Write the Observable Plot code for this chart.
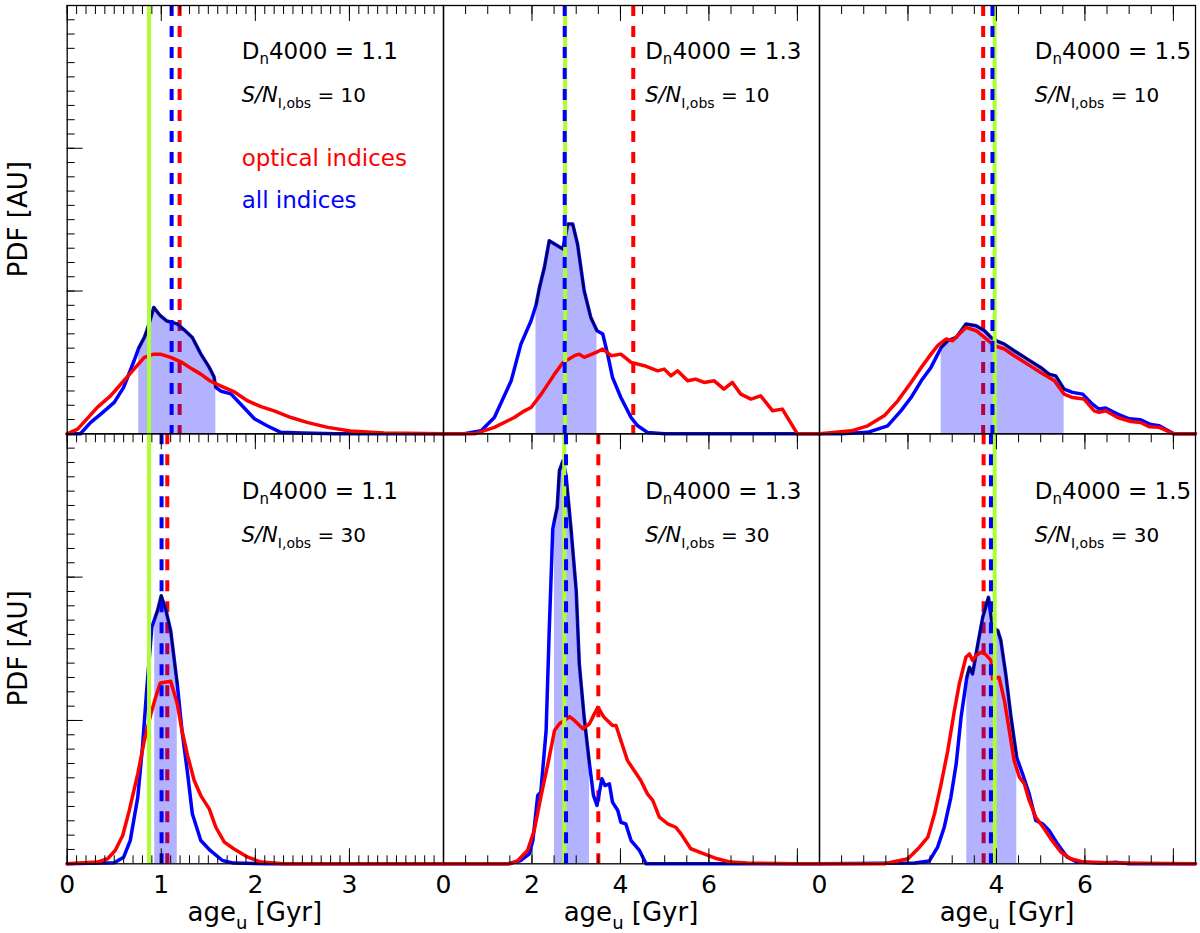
<!DOCTYPE html>
<html>
<head>
<meta charset="utf-8">
<script src="https://cdn.jsdelivr.net/npm/d3@7"></script>
<script src="https://cdn.jsdelivr.net/npm/@observablehq/plot@0.6"></script>
<style>
  body { margin: 0; background: #fff; font-family: "DejaVu Sans", sans-serif; }
  #chart { position: relative; width: 1200px; height: 933px; }
  #chart svg { position: absolute; left: 0; top: 0; overflow: visible; }
</style>
</head>
<body>
<div id="chart"></div>
<script>
// ---- data (age in Gyr, PDF in arbitrary units) ----
var dn4000 = ["1.1", "1.3", "1.5"];
var snrObs = ["10", "30"];
var ageMax = [4, 8.5, 8.5];
var xTickLabels = [[0, 1, 2, 3], [0, 2, 4, 6], [0, 2, 4, 6]];

// true age (green), median of "all indices" (blue), median of "optical indices" (red)
var trueAge = [[0.87, 2.75, 3.96], [0.87, 2.73, 3.96]];
var medianAll = [[1.11, 2.74, 3.91], [1.003, 2.77, 3.876]];
var medianOpt = [[1.195, 4.29, 3.70], [1.064, 3.5, 3.71]];
// shaded 68% range of the "all indices" PDF
var bandAll = [[[0.76, 1.58], [2.09, 3.47], [2.75, 5.53]],
               [[0.93, 1.17], [2.51, 3.30], [3.33, 4.46]]];

// S/N = 10, Dn4000 = 1.1
var allTL = [[0,0],[0.14,0],[0.25,0.08],[0.36,0.14],[0.5,0.22],[0.6,0.325],[0.71,0.51],[0.76,0.6],[0.82,0.675],[0.85,0.73],[0.89,0.815],[0.92,0.885],[0.99,0.827],[1.06,0.79],[1.17,0.77],[1.24,0.73],[1.33,0.675],[1.42,0.56],[1.51,0.465],[1.56,0.4],[1.58,0.325],[1.63,0.30],[1.74,0.28],[1.84,0.21],[1.99,0.105],[2.13,0.055],[2.27,0.01],[2.5,0.005],[2.85,0],[4,0]];
var optTL = [[0,0],[0.11,0.033],[0.21,0.105],[0.32,0.185],[0.46,0.266],[0.6,0.37],[0.71,0.453],[0.82,0.535],[0.92,0.558],[0.99,0.558],[1.1,0.535],[1.22,0.5],[1.33,0.453],[1.42,0.418],[1.52,0.37],[1.63,0.336],[1.77,0.296],[1.92,0.23],[2.06,0.19],[2.2,0.16],[2.38,0.114],[2.55,0.08],[2.77,0.045],[3.01,0.02],[3.37,0.005],[4,0]];
// S/N = 10, Dn4000 = 1.3
var allTM = [[0,0],[0.47,0],[0.85,0.021],[1.15,0.114],[1.53,0.371],[1.75,0.628],[1.98,0.792],[2.09,0.9],[2.17,1.025],[2.28,1.165],[2.39,1.352],[2.7,1.294],[2.81,1.47],[2.92,1.47],[3.03,1.329],[3.18,1.002],[3.33,0.815],[3.47,0.722],[3.6,0.699],[3.71,0.558],[3.82,0.395],[4.01,0.254],[4.24,0.114],[4.39,0.056],[4.61,0.01],[4.99,0],[8.5,0]];
var optTM = [[0,0],[0.7,0],[1.15,0.045],[1.6,0.114],[1.83,0.161],[1.98,0.184],[2.21,0.278],[2.51,0.418],[2.7,0.5],[2.96,0.547],[3.07,0.558],[3.18,0.535],[3.45,0.57],[3.6,0.594],[3.79,0.547],[4.01,0.558],[4.24,0.5],[4.54,0.477],[4.84,0.441],[4.99,0.453],[5.14,0.406],[5.29,0.441],[5.52,0.371],[5.7,0.383],[5.89,0.36],[6.12,0.371],[6.34,0.313],[6.53,0.36],[6.72,0.278],[6.95,0.243],[7.17,0.266],[7.44,0.161],[7.66,0.173],[8.0,0],[8.5,0]];
// S/N = 10, Dn4000 = 1.5
var allTR = [[0,0],[0.49,0],[1.09,0.01],[1.54,0.056],[1.84,0.161],[2.07,0.254],[2.3,0.371],[2.52,0.465],[2.75,0.605],[2.9,0.652],[3.09,0.675],[3.31,0.769],[3.54,0.757],[3.73,0.722],[3.88,0.675],[3.99,0.652],[4.18,0.628],[4.4,0.582],[4.7,0.523],[5.0,0.465],[5.19,0.418],[5.34,0.406],[5.53,0.313],[5.72,0.29],[5.95,0.278],[6.17,0.208],[6.32,0.173],[6.47,0.18],[6.74,0.138],[7.0,0.105],[7.26,0.098],[7.49,0.065],[7.68,0.056],[8.01,0],[8.5,0]];
var optTR = [[0,0],[0.19,0.005],[0.72,0.021],[1.09,0.056],[1.47,0.128],[1.77,0.231],[2.07,0.36],[2.3,0.465],[2.52,0.558],[2.67,0.617],[2.86,0.664],[3.01,0.652],[3.16,0.699],[3.31,0.745],[3.54,0.722],[3.73,0.675],[3.95,0.617],[4.18,0.594],[4.4,0.547],[4.7,0.488],[5.0,0.43],[5.31,0.371],[5.53,0.278],[5.72,0.254],[5.98,0.243],[6.21,0.161],[6.32,0.15],[6.47,0.161],[6.74,0.114],[7.04,0.086],[7.26,0.079],[7.45,0.049],[7.68,0.045],[8.01,0],[8.5,0]];
// S/N = 30, Dn4000 = 1.1
var allBL = [[0,0],[0.5,0.007],[0.6,0.046],[0.67,0.162],[0.75,0.464],[0.8,0.813],[0.85,1.255],[0.9,1.65],[0.93,1.71],[0.96,1.766],[1.0,1.87],[1.05,1.766],[1.1,1.627],[1.17,1.255],[1.22,0.93],[1.28,0.628],[1.33,0.349],[1.42,0.162],[1.52,0.093],[1.65,0.023],[1.77,0.005],[2.13,0],[4,0]];
var optBL = [[0,0],[0.32,0.012],[0.43,0.035],[0.51,0.093],[0.59,0.197],[0.66,0.372],[0.75,0.628],[0.82,0.86],[0.89,1.046],[0.94,1.162],[0.99,1.262],[1.1,1.274],[1.17,1.116],[1.22,0.93],[1.28,0.755],[1.35,0.581],[1.42,0.476],[1.51,0.383],[1.58,0.255],[1.67,0.151],[1.77,0.105],[1.92,0.046],[2.06,0.012],[2.3,0],[4,0]];
// S/N = 30, Dn4000 = 1.3
var allBM = [[0,0],[1.45,0],[1.75,0.023],[1.94,0.07],[2.02,0.162],[2.13,0.477],[2.2,0.5],[2.32,0.93],[2.39,1.627],[2.47,2.336],[2.51,2.4],[2.57,2.487],[2.62,2.743],[2.7,2.812],[2.77,2.708],[2.88,2.347],[3.0,1.906],[3.07,1.395],[3.18,1.022],[3.3,0.697],[3.39,0.477],[3.47,0.407],[3.58,0.593],[3.65,0.546],[3.75,0.558],[3.82,0.43],[3.94,0.372],[4.01,0.29],[4.12,0.279],[4.24,0.162],[4.43,0.093],[4.58,0],[8.5,0]];
var optBM = [[0,0],[1.5,0],[1.68,0.023],[1.9,0.093],[2.05,0.232],[2.2,0.465],[2.36,0.697],[2.51,0.93],[2.62,0.977],[2.73,1.0],[2.85,1.027],[2.96,1.0],[3.15,0.942],[3.3,0.977],[3.41,1.046],[3.49,1.092],[3.63,1.022],[3.82,0.965],[3.9,0.965],[4.01,0.86],[4.16,0.72],[4.31,0.651],[4.46,0.581],[4.61,0.488],[4.73,0.442],[4.88,0.325],[5.07,0.279],[5.25,0.255],[5.37,0.209],[5.59,0.105],[5.89,0.07],[6.19,0.035],[6.49,0.012],[6.87,0.005],[8,0],[8.5,0]];
// S/N = 30, Dn4000 = 1.5
var allBR = [[0,0],[2.15,0.005],[2.48,0.019],[2.67,0.116],[2.82,0.255],[2.97,0.464],[3.09,0.697],[3.2,1.022],[3.33,1.3],[3.39,1.371],[3.46,1.325],[3.58,1.534],[3.69,1.72],[3.82,1.859],[3.91,1.65],[4.03,1.627],[4.1,1.557],[4.21,1.325],[4.33,1.022],[4.46,0.74],[4.59,0.628],[4.74,0.488],[4.89,0.302],[5.04,0.279],[5.19,0.232],[5.38,0.139],[5.6,0.046],[5.83,0.012],[6.36,0.005],[6.73,0.01],[7.0,0],[8.5,0]];
var optBR = [[0,0],[1.47,0],[2.0,0.035],[2.26,0.116],[2.45,0.186],[2.6,0.349],[2.75,0.558],[2.9,0.79],[3.05,1.069],[3.16,1.255],[3.31,1.441],[3.39,1.464],[3.46,1.418],[3.54,1.453],[3.65,1.476],[3.76,1.46],[3.88,1.418],[3.91,1.29],[4.06,1.301],[4.18,1.139],[4.29,0.93],[4.4,0.72],[4.52,0.604],[4.63,0.558],[4.74,0.442],[4.89,0.325],[5.08,0.244],[5.23,0.174],[5.46,0.081],[5.68,0.035],[5.98,0.012],[6.73,0.005],[8.5,0]];

var allCurves = [[allTL, allTM, allTR], [allBL, allBM, allBR]];
var optCurves = [[optTL, optTM, optTR], [optBL, optBM, optBR]];

// ---- layout (pixels) ----
var W = 1200, H = 933;
var colEdges = [[66.7, 443], [443, 819], [819, 1195]];
var rowEdges = [[5, 433.3], [433.3, 863.3]];
var labelX = [1.86, 4.57, 4.88];          // data x of the in-panel annotations
var dnY = [2.62, 2.54], snY = [2.32, 2.244];

var BLUE = "#0000ff", RED = "#ff0000", GREEN = "#adff2f";
var px = function(d) { return d[0]; };
var py = function(d) { return d[1]; };

function steps(max, step) {
    var n = Math.round(max / step), out = [];
    for (var i = 0; i <= n; i++) out.push(+(i * step).toFixed(3));
    return out;
}

function richText(g, x, y, parts, fill, transform) {
    var t = g.append("text")
        .attr("x", x).attr("y", y)
        .attr("fill", fill || "black")
        .attr("text-anchor", "start")
        .style("white-space", "pre");
    if (transform) t.attr("transform", transform).attr("x", 0).attr("y", 0).attr("text-anchor", "middle");
    parts.forEach(function(p) {
        t.append("tspan")
            .attr("font-size", p.size)
            .attr("font-style", p.italic ? "italic" : null)
            .attr("dy", p.dy || 0)
            .text(p.t);
    });
    return t;
}

var chart = document.getElementById("chart");
var noText = function() { return ""; };

for (var r = 0; r < 2; r++) {
    for (var c = 0; c < 3; c++) {
        var all = allCurves[r][c], opt = optCurves[r][c];
        var lo = bandAll[r][c][0], hi = bandAll[r][c][1];
        var inBand = (function(lo, hi) { return function(d) { return d[0] >= lo - 1e-9 && d[0] <= hi + 1e-9; }; })(lo, hi);
        var minorX = steps(ageMax[c], c === 0 ? 0.1 : 0.5);
        var majorX = steps(ageMax[c], c === 0 ? 1 : 2);

        var marks = [
            Plot.ruleX([medianOpt[r][c]], {stroke: RED, strokeWidth: 4, strokeDasharray: "11,10"}),
            Plot.areaY(all, {filter: inBand, x: px, y: py, fill: BLUE, fillOpacity: 0.3}),
            Plot.line(all, {x: px, y: py, stroke: BLUE, strokeWidth: 3.5}),
            Plot.line(all, {filter: inBand, x: px, y: py, stroke: "black", strokeWidth: 1.3}),
            Plot.line(opt, {x: px, y: py, stroke: RED, strokeWidth: 3.5}),
            Plot.ruleX([trueAge[r][c]], {stroke: GREEN, strokeWidth: 4}),
            Plot.ruleX([medianAll[r][c]], {stroke: BLUE, strokeWidth: 4, strokeDasharray: "11,10"}),
            Plot.frame({stroke: "black", strokeWidth: 1.3}),
            Plot.axisX(minorX, {anchor: "top", tickSize: -8, tickFormat: noText, label: null}),
            Plot.axisX(majorX, {anchor: "top", tickSize: -15, tickFormat: noText, label: null})
        ];
        if (r === 1) {
            marks.push(
                Plot.axisX(minorX, {anchor: "bottom", tickSize: -8, tickFormat: noText, label: null}),
                Plot.axisX(majorX, {anchor: "bottom", tickSize: -15, tickFormat: noText, label: null}),
                Plot.axisX(xTickLabels[c], {anchor: "bottom", tickSize: 0, tickPadding: 11, fontSize: 25, label: null})
            );
        }
        if (c === 0) {
            marks.push(
                Plot.axisY(steps(3, 0.1), {anchor: "left", tickSize: -8, tickFormat: noText, label: null}),
                Plot.axisY(steps(3, 1), {anchor: "left", tickSize: -16, tickFormat: noText, label: null})
            );
        }

        var plot = Plot.plot({
            width: W,
            height: H,
            marginLeft: colEdges[c][0],
            marginRight: W - colEdges[c][1],
            marginTop: rowEdges[r][0],
            marginBottom: H - rowEdges[r][1],
            x: {domain: [0, ageMax[c]], axis: null},
            y: {domain: [0, 3], axis: null},
            style: {fontFamily: "DejaVu Sans", fontSize: "25px", background: "transparent", overflow: "visible", color: "black"},
            marks: marks
        });
        chart.appendChild(plot);

        var sx = plot.scale("x"), sy = plot.scale("y");
        var g = d3.select(plot).append("g").attr("font-family", "DejaVu Sans").attr("text-anchor", "start");
        var tx = sx.apply(labelX[c]);

        richText(g, tx, sy.apply(dnY[r]), [
            {t: "D", size: 23},
            {t: "n", size: 15, dy: 5},
            {t: "4000 = " + dn4000[c], size: 23, dy: -5}
        ]);
        richText(g, tx, sy.apply(snY[r]), [
            {t: "S/N", size: 21, italic: true},
            {t: "I,obs", size: 14, dy: 6},
            {t: " = " + snrObs[r], size: 20, dy: -6}
        ]);
        if (r === 0 && c === 0) {
            richText(g, tx, sy.apply(1.874), [{t: "optical indices", size: 23}], RED);
            richText(g, tx, sy.apply(1.578), [{t: "all indices", size: 23}], BLUE);
        }
        if (r === 1) {
            richText(g, 0, 0, [
                {t: "age", size: 26},
                {t: "u", size: 18, dy: 8},
                {t: " [Gyr]", size: 26, dy: -8}
            ], "black", "translate(" + ((colEdges[c][0] + colEdges[c][1]) / 2) + "," + (rowEdges[1][1] + 58) + ")");
        }
        if (c === 0) {
            richText(g, 0, 0, [{t: "PDF [AU]", size: 26}], "black",
                "translate(27," + ((rowEdges[r][0] + rowEdges[r][1]) / 2) + ") rotate(-90)");
        }
    }
}
</script>
</body>
</html>
